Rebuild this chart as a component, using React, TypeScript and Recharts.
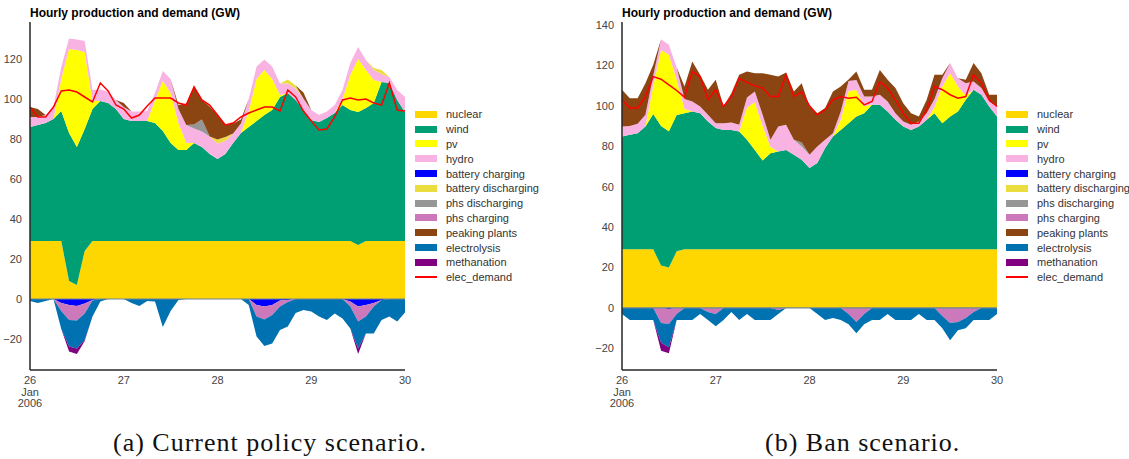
import { ComposedChart, Area, Line, XAxis, YAxis, ReferenceLine } from 'recharts';

// hours since 26 Jan 2006 00:00, sampled every 2 h
const hours = [0, 2, 4, 6, 8, 10, 12, 14, 16, 18, 20, 22, 24, 26, 28, 30, 32, 34, 36, 38, 40, 42, 44, 46, 48, 50, 52, 54, 56, 58, 60, 62, 64, 66, 68, 70, 72, 74, 76, 78, 80, 82, 84, 86, 88, 90, 92, 94, 96];
const dayTicks = [0, 24, 48, 72, 96];
const dayLabels = [['26', 'Jan', '2006'], ['27'], ['28'], ['29'], ['30']];

// (a) current policy scenario
const nuclearA = [29, 29, 29, 29, 29, 9, 7, 24, 29, 29, 29, 29, 29, 29, 29, 29, 29, 29, 29, 29, 29, 29, 29, 29, 29, 29, 29, 29, 29, 29, 29, 29, 29, 29, 29, 29, 29, 29, 29, 29, 29, 29, 27, 29, 29, 29, 29, 29, 29];
const windA = [57, 58, 59, 61, 65, 74, 69, 61, 66, 70, 69, 66, 61, 60, 60, 60, 59, 55, 49, 45.5, 45.5, 49, 47, 43.5, 41, 43.5, 49, 54, 57, 60, 63, 65.5, 72, 74, 70.5, 65.5, 60.5, 59.5, 61.5, 64, 68, 65.5, 66.5, 66.5, 69, 79.5, 79, 70.5, 64.5];
const pvA = [0, 0, 0, 0, 16, 42, 48.5, 38.5, 4, 0, 0, 0, 0, 0, 0, 0, 11.5, 25, 25, 13.5, 3.5, 0, 0, 0, 0, 0, 0, 0, 8, 21, 22.5, 15.5, 1, 0, 0, 0, 0, 0, 0, 0, 3, 17.5, 26.5, 19, 11.5, 0, 0, 0, 0];
const hydroA = [5, 4, 4, 6, 6, 5.3, 5.3, 5.5, 5.5, 5.8, 5.7, 4.5, 6, 4.7, 4.7, 5, 3.5, 5, 7, 7, 9, 7.3, 7.7, 8.7, 7.8, 6.5, 4.8, 4.8, 6, 6.2, 5.3, 6.2, 5.8, 4.8, 5.8, 5.8, 5, 3.5, 3.2, 4, 4.5, 6, 6, 5, 5, 4, 3, 5, 7.5];
const batteryChargingA = [0, 0, 0, 0, -2, -3, -3.5, -2.2, -0.5, 0, 0, 0, 0, 0, 0, 0, 0, 0, 0, 0, 0, 0, 0, 0, 0, 0, 0, 0, 0, -3, -3.8, -3, -0.8, -0.5, 0, 0, 0, 0, 0, 0, 0, -1.3, -3.8, -3, -2, -0.5, 0, 0, 0];
const batteryDischargingA = [0, 0, 0, 0, 0, 0, 0, 0, 0, 0, 0, 0, 0, 0, 0, 0, 0, 0, 0, 0, 0, 0, 0, 0, 2, 2, 0, 0, 0, 0, 0, 0, 0, 2, 1.5, 0, 0, 0, 0, 0, 0, 0, 0, 0, 1, 2, 0, 0, 0];
const phsDischargingA = [0, 0, 0, 0, 0, 0, 0, 0, 0, 0, 0, 0, 0, 0, 0, 0, 0, 0, 0, 0, 0, 2, 6, 0, 0, 0, 0, 0, 0, 0, 0, 0, 0, 0, 0, 0, 0, 0, 0, 0, 0, 0, 0, 0, 0, 0, 0, 0, 0];
const phsChargingA = [0, 0, 0, 0, -4, -7.5, -7.3, -5, -0.3, 0, 0, 0, 0, 0, 0, 0, 0, 0, 0, 0, 0, 0, 0, 0, 0, 0, 0, 0, 0, -5.8, -6.4, -5, -3, -1, 0, 0, 0, 0, 0, 0, 0, -2.5, -7.5, -5.8, -1.8, 0, 0, 0, 0];
const peakingA = [5, 4, 0, 0, 0, 0, 0, 0, 0, 0, 0, 0, 2, 0, 0, 0, 0, 0, 0, 2, 10.8, 19.2, 9.8, 15, 12.2, 6, 5, 2, 0, 0, 0, 0, 0, 0, 0, 3, 0, 0, 0, 0, 0, 0, 0, 0, 0, 0, 0, 0, 0];
const electrolysisA = [-1, -2, -1, 0, -9, -13.3, -13.9, -13.3, -8, -1.3, 0, 0, 0, -2, -3.5, -1, -1.3, -14, -6, -0.5, 0, 0, 0, 0, 0, 0, 0, 0, -3, -10, -13.3, -14.2, -11.7, -12.3, -7, -5.5, -6.3, -8.8, -10.5, -7.2, -9.7, -10.9, -13.4, -8.4, -13.4, -10, -8.8, -11.3, -6.8];
const methanationA = [0, 0, 0, 0, 0, -2.5, -2.8, -0.5, 0, 0, 0, 0, 0, 0, 0, 0, 0, 0, 0, 0, 0, 0, 0, 0, 0, 0, 0, 0, 0, 0, 0, 0, 0, 0, 0, 0, 0, 0, 0, 0, 0, 0, -2.8, 0, 0, 0, 0, 0, 0];
const demandA = [96, 91, 91, 96, 104, 104.5, 103.5, 101, 98.5, 108, 104, 97, 95, 90.5, 92, 96.5, 100.5, 100.5, 100.5, 98, 97, 106, 99.5, 97, 92, 87, 88, 91, 93, 94.5, 96, 96, 94, 104.5, 101, 94, 89, 84.5, 85, 91, 99.5, 100.5, 99.5, 100, 98, 97, 108, 94.5, 94];

// (b) ban scenario
const nuclearB = [29, 29, 29, 29, 29, 21, 20, 28, 29, 29, 29, 29, 29, 29, 29, 29, 29, 29, 29, 29, 29, 29, 29, 29, 29, 29, 29, 29, 29, 29, 29, 29, 29, 29, 29, 29, 29, 29, 29, 29, 29, 29, 29, 29, 29, 29, 29, 29, 29];
const windB = [55.8, 56.7, 57.5, 60.8, 67, 69, 67.5, 67.5, 67.4, 68.2, 67.4, 63.3, 60, 59.1, 59.1, 58.3, 54.2, 49.2, 44, 47.6, 48.4, 49.2, 46.8, 44.3, 40.2, 42.7, 50.1, 55.8, 59.1, 62.4, 65.8, 67.4, 71.5, 71.5, 68.2, 64.1, 60.8, 59.1, 60.8, 64.1, 67.4, 62.4, 65.8, 68.2, 74, 79, 76.5, 70.7, 65.8];
const pvB = [0, 0, 0, 0, 14, 37.7, 37.8, 17.5, 2, 0, 0, 0, 0, 0, 0, 0, 16, 23.5, 17, 3, 0, 0, 0, 0, 0, 0, 0, 0, 5, 16, 13, 3.5, 0, 0, 0, 0, 0, 0, 0, 0, 3, 18.2, 21.4, 12.4, 2, 0, 0, 0, 0];
const hydroB = [5, 4.4, 4.6, 5.8, 5, 5.3, 4.9, 6, 5, 5, 3.3, 3.3, 2.4, 3.3, 3.7, 3.3, 5, 5.4, 5.6, 3.6, 12.4, 12.4, 7.4, 6.6, 6.6, 8.2, 4.1, 1.7, 4.1, 4.9, 5, 4.7, 4.1, 5, 5, 3.3, 2.5, 2.5, 2.5, 3.3, 4, 4.1, 5, 4.1, 6.2, 4, 3.3, 2.5, 4.9];
const batteryChargingB = [0, 0, 0, 0, 0, 0, -0.5, 0, 0, 0, 0, 0, 0, 0, 0, 0, 0, 0, 0, 0, 0, 0, 0, 0, 0, 0, 0, 0, 0, 0, 0, 0, 0, 0, 0, 0, 0, 0, 0, 0, 0, 0, 0, 0, 0, 0, 0, 0, 0];
const batteryDischargingB = [0, 0, 0, 0, 0, 0, 0, 0, 0, 0, 0, 0, 0, 0, 0, 0, 0, 0, 0, 0, 0, 0, 0, 0, 0, 0, 0, 0, 0, 0, 0, 0, 0, 0, 0, 0, 0, 0, 0, 0, 0, 0, 0, 0, 0, 0, 0, 0, 0];
const phsDischargingB = [0, 0, 0, 0, 0, 0, 0, 0, 0, 0, 0, 0, 0, 0, 0, 0, 0, 0, 0, 0, 0, 0, 0, 2, 0, 0, 0, 0, 0, 0, 0, 0, 0, 0, 0, 0, 0, 0, 0, 0, 0, 0, 0, 0, 0, 0, 0, 0, 0];
const phsChargingB = [0, 0, 0, 0, 0, -7.4, -7.4, -3, 0, 0, 0, -2, -3, 0, 0, 0, 0, 0, 0, 0, -1, 0, 0, 0, 0, 0, 0, 0, 0, -3, -7, -3, 0, 0, 0, 0, 0, 0, 0, 0, 0, -4, -7.5, -7, -5, -2, 0, 0, 0];
const peakingB = [18.2, 13.7, 12.7, 15.6, 5.3, 0, 0, 0, 6.2, 19.8, 15.7, 12.4, 21.5, 8.3, 14.5, 24.8, 12.8, 9.1, 20.6, 32.2, 24.7, 25.9, 23.9, 29.3, 23.9, 16.5, 15.7, 20.6, 12.4, 0.7, 4.2, 3.4, 3.4, 12.3, 10.7, 12.4, 9, 5.8, 2.5, 6.6, 12, 1.7, 0, 0, 1.7, 9.2, 7.4, 3.3, 5.8];
const electrolysisB = [-3, -6, -6, -6, -6, -9.8, -11.5, -3, -6, -6, -3, -4, -6, -6, -2, -6, -3, -6, -6, -6, -2, 0, 0, 0, 0, -3, -6, -5, -6, -5, -5.5, -5, -6, -6, -3, -6, -6, -6, -3, -6, -6, -6, -8.5, -4, -5, -4, -6, -6, -3];
const methanationB = [0, 0, 0, 0, 0, -4, -3, 0, 0, 0, 0, 0, 0, 0, 0, 0, 0, 0, 0, 0, 0, 0, 0, 0, 0, 0, 0, 0, 0, 0, 0, 0, 0, 0, 0, 0, 0, 0, 0, 0, 0, 0, 0, 0, 0, 0, 0, 0, 0];
const demandB = [103, 99, 99, 104.6, 114.5, 113.2, 110.4, 107.6, 104.3, 117, 114.5, 103, 108, 99.7, 104.6, 113.7, 111.6, 109.9, 108.8, 104.6, 104.6, 115.4, 104.6, 107, 100, 95.6, 98.1, 103, 104.6, 103.8, 104.3, 100.5, 102.2, 112, 108.8, 103, 96.4, 91.4, 91.4, 98.1, 109.6, 108, 105.5, 103.8, 104.6, 115.4, 111.2, 103, 99.7];

// stack: "pos" = generation above zero, "neg" = consumption below zero
const series = [
  { key: 'nuclear', label: 'nuclear', color: '#FFD700', stack: 'pos' },
  { key: 'wind', label: 'wind', color: '#009F73', stack: 'pos' },
  { key: 'pv', label: 'pv', color: '#FFFF00', stack: 'pos' },
  { key: 'hydro', label: 'hydro', color: '#F9B3E2', stack: 'pos' },
  { key: 'batteryCharging', label: 'battery charging', color: '#0000FF', stack: 'neg' },
  { key: 'batteryDischarging', label: 'battery discharging', color: '#EBDD3E', stack: 'pos' },
  { key: 'phsDischarging', label: 'phs discharging', color: '#969696', stack: 'pos' },
  { key: 'phsCharging', label: 'phs charging', color: '#CC79BB', stack: 'neg' },
  { key: 'peaking', label: 'peaking plants', color: '#8B4513', stack: 'pos' },
  { key: 'electrolysis', label: 'electrolysis', color: '#0072B2', stack: 'neg' },
  { key: 'methanation', label: 'methanation', color: '#800080', stack: 'neg' },
];

const rowsA = hours.map((h, i) => ({
  h,
  nuclear: nuclearA[i], wind: windA[i], pv: pvA[i], hydro: hydroA[i],
  batteryCharging: batteryChargingA[i], batteryDischarging: batteryDischargingA[i],
  phsDischarging: phsDischargingA[i], phsCharging: phsChargingA[i], peaking: peakingA[i],
  electrolysis: electrolysisA[i], methanation: methanationA[i], demand: demandA[i],
}));

const rowsB = hours.map((h, i) => ({
  h,
  nuclear: nuclearB[i], wind: windB[i], pv: pvB[i], hydro: hydroB[i],
  batteryCharging: batteryChargingB[i], batteryDischarging: batteryDischargingB[i],
  phsDischarging: phsDischargingB[i], phsCharging: phsChargingB[i], peaking: peakingB[i],
  electrolysis: electrolysisB[i], methanation: methanationB[i], demand: demandB[i],
}));

const FONT = '"Liberation Sans", Arial, sans-serif';

function DayTick(props: any) {
  const { x, y, payload } = props;
  const idx = dayTicks.indexOf(payload.value);
  const lines = dayLabels[idx] || [String(payload.value)];
  return (
    <text x={x} y={y + 12} textAnchor="middle" fill="#444" fontSize={11} fontFamily={FONT}>
      {lines.map((l, i) => (
        <tspan key={i} x={x} dy={i === 0 ? 0 : 11.5}>{l}</tspan>
      ))}
    </text>
  );
}

const fmtY = (v: number) => (v < 0 ? '\u2212' + Math.abs(v) : String(v));

function Panel({ rows, domain, ticks }: { rows: any[]; domain: number[]; ticks: number[] }) {
  return (
    <ComposedChart width={420} height={420} data={rows} margin={{ top: 22, right: 15, bottom: 0, left: 0 }}>
      <XAxis
        type="number"
        dataKey="h"
        domain={[0, 96]}
        ticks={dayTicks}
        interval={0}
        height={50}
        tickLine={false}
        tickSize={0}
        axisLine={{ stroke: '#262626', strokeWidth: 1.5 }}
        tick={<DayTick />}
      />
      <YAxis
        type="number"
        domain={domain}
        ticks={ticks}
        interval={0}
        allowDataOverflow
        width={30}
        tickLine={false}
        tickSize={0}
        tickMargin={8}
        tickFormatter={fmtY}
        axisLine={{ stroke: '#262626', strokeWidth: 1.5 }}
        tick={{ fill: '#444', fontSize: 11, fontFamily: FONT }}
      />
      {series.map((s) => (
        <Area
          key={s.key}
          type="linear"
          dataKey={s.key}
          stackId={s.stack}
          stroke="none"
          fill={s.color}
          fillOpacity={1}
          dot={false}
          activeDot={false}
          isAnimationActive={false}
        />
      ))}
      <ReferenceLine y={0} stroke="#6f8299" strokeWidth={1.2} />
      <Line type="linear" dataKey="demand" stroke="#FF0000" strokeWidth={1.5} dot={false} activeDot={false} isAnimationActive={false} />
    </ComposedChart>
  );
}

function LegendBox({ left }: { left: number }) {
  return (
    <div style={{ position: 'absolute', left, top: 107, fontFamily: FONT, fontSize: 11, color: '#333', whiteSpace: 'nowrap' }}>
      {series.map((s) => (
        <div key={s.key} style={{ display: 'flex', alignItems: 'center', height: 14.8 }}>
          <div style={{ width: 22, height: 7, background: s.color, marginRight: 9, flex: 'none' }} />
          <span>{s.label}</span>
        </div>
      ))}
      <div style={{ display: 'flex', alignItems: 'center', height: 14.8 }}>
        <div style={{ width: 22, height: 1.5, background: '#FF0000', marginRight: 9, flex: 'none' }} />
        <span>elec_demand</span>
      </div>
    </div>
  );
}

const titleStyle = { position: 'absolute' as const, top: 6, fontFamily: FONT, fontSize: 12, fontWeight: 700, color: '#000' };
const captionStyle = { position: 'absolute' as const, top: 430, fontFamily: '"Liberation Serif", "Times New Roman", serif', fontSize: 26, lineHeight: '26px', letterSpacing: 1, color: '#111', whiteSpace: 'nowrap' as const };

export default function App() {
  return (
    <div style={{ position: 'absolute', left: 0, top: 0, width: 1129, height: 459, background: '#fff', overflow: 'hidden' }}>
      <div style={{ position: 'absolute', left: 0, top: 0 }}>
        <Panel rows={rowsA} domain={[-35.5, 138.5]} ticks={[-20, 0, 20, 40, 60, 80, 100, 120]} />
      </div>
      <div style={{ ...titleStyle, left: 30 }}>Hourly production and demand (GW)</div>
      <LegendBox left={415} />
      <div style={{ position: 'absolute', left: 592, top: 0 }}>
        <Panel rows={rowsB} domain={[-30.7, 141.5]} ticks={[-20, 0, 20, 40, 60, 80, 100, 120, 140]} />
      </div>
      <div style={{ ...titleStyle, left: 622 }}>Hourly production and demand (GW)</div>
      <LegendBox left={1006} />
      <div style={{ ...captionStyle, left: 113 }}>(a) Current policy scenario.</div>
      <div style={{ ...captionStyle, left: 765 }}>(b) Ban scenario.</div>
    </div>
  );
}
